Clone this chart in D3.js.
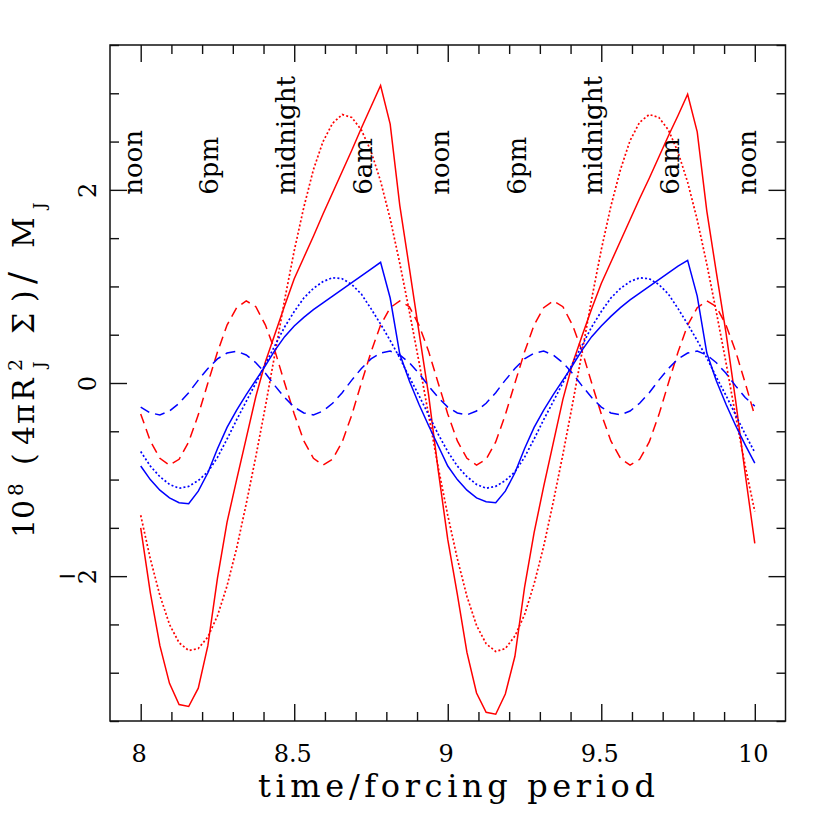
<!DOCTYPE html>
<html>
<head>
<meta charset="utf-8">
<script src="https://cdn.jsdelivr.net/npm/d3@7"></script>
<style>
  body { margin: 0; background: #ffffff; }
  svg text { font-family: "DejaVu Serif", "Liberation Serif", serif; fill: #000; }
</style>
</head>
<body>
<div id="chart"></div>
<script>

// ---------- data ----------

const time = [
  8, 8.03125, 8.0625, 8.09375, 8.125, 8.15625, 8.1875, 8.21875,
  8.25, 8.28125, 8.3125, 8.34375, 8.375, 8.40625, 8.4375, 8.46875,
  8.5, 8.53125, 8.5625, 8.59375, 8.625, 8.65625, 8.6875, 8.71875,
  8.75, 8.78125, 8.8125, 8.84375, 8.875, 8.90625, 8.9375, 8.96875,
  9, 9.03125, 9.0625, 9.09375, 9.125, 9.15625, 9.1875, 9.21875,
  9.25, 9.28125, 9.3125, 9.34375, 9.375, 9.40625, 9.4375, 9.46875,
  9.5, 9.53125, 9.5625, 9.59375, 9.625, 9.65625, 9.6875, 9.71875,
  9.75, 9.78125, 9.8125, 9.84375, 9.875, 9.90625, 9.9375, 9.96875,
  10
];

const redSolid = [
  -1.50, -2.17, -2.72, -3.11, -3.33, -3.35, -3.16, -2.72,
  -2.02, -1.44, -1.00, -0.57, -0.14, 0.22, 0.51, 0.80,
  1.08, 1.30, 1.52, 1.75, 1.97, 2.19, 2.41, 2.64,
  2.86, 3.08, 2.68, 1.84, 1.19, 0.53, -0.12, -0.90,
  -1.62, -2.19, -2.79, -3.21, -3.41, -3.43, -3.22, -2.83,
  -2.12, -1.55, -1.07, -0.62, -0.17, 0.20, 0.49, 0.77,
  1.03, 1.25, 1.47, 1.69, 1.91, 2.12, 2.34, 2.56,
  2.77, 2.99, 2.60, 1.78, 1.14, 0.52, -0.18, -0.94,
  -1.66
];

const redDotted = [
  -1.37, -1.82, -2.20, -2.50, -2.69, -2.77, -2.75, -2.63,
  -2.41, -2.10, -1.71, -1.25, -0.76, -0.24, 0.31, 0.86,
  1.37, 1.82, 2.21, 2.50, 2.69, 2.78, 2.75, 2.62,
  2.40, 2.09, 1.70, 1.24, 0.74, 0.22, -0.33, -0.87,
  -1.37, -1.82, -2.21, -2.51, -2.70, -2.78, -2.75, -2.62,
  -2.40, -2.08, -1.69, -1.23, -0.74, -0.22, 0.32, 0.87,
  1.38, 1.83, 2.21, 2.51, 2.70, 2.78, 2.75, 2.62,
  2.39, 2.08, 1.69, 1.23, 0.73, 0.21, -0.34, -0.86,
  -1.33
];

const redDashed = [
  -0.32, -0.60, -0.78, -0.85, -0.79, -0.61, -0.33, 0.00,
  0.32, 0.60, 0.78, 0.85, 0.79, 0.60, 0.33, 0.00,
  -0.32, -0.60, -0.78, -0.85, -0.79, -0.61, -0.33, 0.00,
  0.32, 0.60, 0.78, 0.85, 0.79, 0.60, 0.33, 0.00,
  -0.32, -0.60, -0.78, -0.85, -0.79, -0.61, -0.33, 0.00,
  0.32, 0.60, 0.78, 0.85, 0.79, 0.60, 0.33, 0.00,
  -0.32, -0.60, -0.78, -0.85, -0.79, -0.61, -0.33, 0.00,
  0.32, 0.60, 0.78, 0.85, 0.79, 0.60, 0.33, 0.00,
  -0.34
];

const blueSolid = [
  -0.86, -1.00, -1.11, -1.19, -1.24, -1.25, -1.12, -0.93,
  -0.68, -0.46, -0.28, -0.12, 0.03, 0.18, 0.34, 0.48,
  0.59, 0.68, 0.76, 0.83, 0.90, 0.97, 1.04, 1.11,
  1.18, 1.25, 0.88, 0.30, 0.02, -0.22, -0.44, -0.65,
  -0.86, -1.00, -1.11, -1.19, -1.23, -1.24, -1.12, -0.93,
  -0.68, -0.46, -0.28, -0.12, 0.03, 0.18, 0.34, 0.48,
  0.59, 0.69, 0.78, 0.86, 0.93, 1.00, 1.07, 1.14,
  1.21, 1.27, 0.90, 0.31, 0.02, -0.22, -0.44, -0.64,
  -0.83
];

const blueDotted = [
  -0.71, -0.86, -0.97, -1.05, -1.09, -1.07, -1.01, -0.92,
  -0.77, -0.58, -0.38, -0.19, 0.00, 0.20, 0.39, 0.58,
  0.74, 0.88, 0.98, 1.05, 1.09, 1.08, 1.02, 0.92,
  0.77, 0.61, 0.44, 0.26, 0.06, -0.13, -0.33, -0.53,
  -0.71, -0.86, -0.97, -1.05, -1.09, -1.07, -1.01, -0.92,
  -0.77, -0.58, -0.38, -0.19, 0.00, 0.20, 0.39, 0.58,
  0.74, 0.88, 0.98, 1.05, 1.09, 1.08, 1.02, 0.92,
  0.77, 0.61, 0.44, 0.26, 0.06, -0.13, -0.33, -0.53,
  -0.72
];

const blueDashed = [
  -0.25, -0.31, -0.33, -0.29, -0.21, -0.10, 0.03, 0.15,
  0.25, 0.31, 0.33, 0.29, 0.21, 0.10, -0.03, -0.15,
  -0.25, -0.31, -0.33, -0.29, -0.21, -0.10, 0.03, 0.15,
  0.25, 0.31, 0.33, 0.29, 0.21, 0.10, -0.03, -0.15,
  -0.25, -0.31, -0.33, -0.29, -0.21, -0.10, 0.03, 0.15,
  0.25, 0.31, 0.33, 0.29, 0.21, 0.10, -0.03, -0.15,
  -0.25, -0.31, -0.33, -0.29, -0.21, -0.10, 0.03, 0.15,
  0.25, 0.31, 0.33, 0.29, 0.21, 0.10, -0.03, -0.15,
  -0.24
];

const phaseTimes = [8, 8.25, 8.5, 8.75, 9, 9.25, 9.5, 9.75, 10];
const phaseLabels = ["noon", "6pm", "midnight", "6am", "noon", "6pm", "midnight", "6am", "noon"];
const phaseLabelY = 1.95;

const xTicks = [8, 8.5, 9, 9.5, 10];
const xTickLabels = ["8", "8.5", "9", "9.5", "10"];
const yTicks = [-2, 0, 2];
const yTickLabels = ["2", "0", "2"];   // the minus is drawn apart, as in the figure

const xTitle = "time/forcing period";

// ---------- layout ----------

const W = 830, H = 830;
const plotLeft = 110, plotRight = 785.5, plotTop = 45, plotBottom = 721;
const majorLen = 17, minorLen = 9;

const x = d3.scaleLinear().domain([7.9, 10.1]).range([plotLeft, plotRight]);
const y = d3.scaleLinear().domain([-3.5, 3.5]).range([plotBottom, plotTop]);

const xMinor = d3.range(80, 101).map(d => d / 10).filter(d => !xTicks.includes(d));
const yMinor = d3.range(-7, 8).map(d => d / 2).filter(d => !yTicks.includes(d));

const svg = d3.select("#chart").append("svg")
    .attr("xmlns", "http://www.w3.org/2000/svg")
    .attr("width", W).attr("height", H);

svg.append("rect").attr("width", W).attr("height", H).attr("fill", "#fff");

// ---------- curves ----------

const series = [
  { values: redSolid,   color: "#ff0000", dash: null },
  { values: redDotted,  color: "#ff0000", dash: "2,2.2" },
  { values: redDashed,  color: "#ff0000", dash: "10,6" },
  { values: blueSolid,  color: "#0000ff", dash: null },
  { values: blueDotted, color: "#0000ff", dash: "2,2.2" },
  { values: blueDashed, color: "#0000ff", dash: "10,6" }
];

const line = d3.line()
    .x(d => x(d[0]))
    .y(d => y(d[1]));

svg.append("g").selectAll("path")
    .data(series)
    .join("path")
    .attr("d", s => line(time.map((t, i) => [t, s.values[i]])))
    .attr("fill", "none")
    .attr("stroke", s => s.color)
    .attr("stroke-width", s => s.dash === "2,2.2" ? 1.7 : 1.5)
    .attr("stroke-dasharray", s => s.dash);

// ---------- axes (ticks point inward on all four sides) ----------

function styleAxis(g) {
  g.select(".domain").remove();
  g.selectAll("line").attr("stroke", "#111").attr("stroke-width", 1.4);
}

svg.append("g").attr("transform", `translate(0,${plotBottom})`)
    .call(d3.axisBottom(x).tickValues(xTicks).tickSize(-majorLen).tickPadding(24)
        .tickFormat((d, i) => xTickLabels[i]))
    .call(styleAxis)
    .call(g => g.selectAll("text").attr("font-size", 24).attr("font-family", null)
        .attr("fill", "#000").attr("x", -2));
svg.append("g").attr("transform", `translate(0,${plotBottom})`)
    .call(d3.axisBottom(x).tickValues(xMinor).tickSize(-minorLen).tickFormat(""))
    .call(styleAxis);

svg.append("g").attr("transform", `translate(0,${plotTop})`)
    .call(d3.axisTop(x).tickValues(xTicks).tickSize(-majorLen).tickFormat(""))
    .call(styleAxis);
svg.append("g").attr("transform", `translate(0,${plotTop})`)
    .call(d3.axisTop(x).tickValues(xMinor).tickSize(-minorLen).tickFormat(""))
    .call(styleAxis);

const yAxisG = svg.append("g").attr("transform", `translate(${plotLeft},0)`)
    .call(d3.axisLeft(y).tickValues(yTicks).tickSize(-majorLen).tickFormat((d, i) => yTickLabels[i]))
    .call(styleAxis);
yAxisG.selectAll("text")
    .attr("font-size", 24).attr("font-family", null).attr("fill", "#000")
    .attr("x", null).attr("dy", null)
    .attr("text-anchor", "middle")
    .attr("transform", "translate(-14,0) rotate(-90)");
yAxisG.selectAll(".tick").filter(d => d < 0)
    .append("text")
    .attr("x", -43).attr("dy", "0.32em")
    .attr("text-anchor", "middle")
    .attr("font-size", 24).attr("fill", "#000")
    .text("\u2212");
svg.append("g").attr("transform", `translate(${plotLeft},0)`)
    .call(d3.axisLeft(y).tickValues(yMinor).tickSize(-minorLen).tickFormat(""))
    .call(styleAxis);

svg.append("g").attr("transform", `translate(${plotRight},0)`)
    .call(d3.axisRight(y).tickValues(yTicks).tickSize(-majorLen).tickFormat(""))
    .call(styleAxis);
svg.append("g").attr("transform", `translate(${plotRight},0)`)
    .call(d3.axisRight(y).tickValues(yMinor).tickSize(-minorLen).tickFormat(""))
    .call(styleAxis);

svg.append("rect")
    .attr("x", plotLeft).attr("y", plotTop)
    .attr("width", plotRight - plotLeft).attr("height", plotBottom - plotTop)
    .attr("fill", "none").attr("stroke", "#111").attr("stroke-width", 1.5);

// ---------- time-of-day labels ----------

svg.append("g").selectAll("text")
    .data(phaseTimes)
    .join("text")
    .attr("transform", d => `translate(${x(d) + 1},${y(phaseLabelY)}) rotate(-90)`)
    .attr("font-size", 26)
    .text((d, i) => phaseLabels[i]);

// ---------- axis titles ----------

svg.append("text")
    .attr("x", 258).attr("y", 797)
    .attr("font-size", 32)
    .attr("textLength", 397)
    .attr("lengthAdjust", "spacing")
    .text(xTitle);

// y title: 10^8 (4 pi R_J^2 Sigma)/M_J, laid out along the rotated baseline
const yTitleParts = [
  { t: "10", x: 0,   dy: 0,   s: 30 },
  { t: "8",  x: 42,  dy: -11, s: 20 },
  { t: "(",  x: 73,  dy: 0,   s: 30 },
  { t: "4",  x: 93,  dy: 0,   s: 30 },
  { t: "\u03c0", x: 114, dy: 0, s: 30 },
  { t: "R",  x: 137, dy: 0,   s: 30 },
  { t: "2",  x: 167, dy: -12, s: 19 },
  { t: "J",  x: 170, dy: 11,  s: 16 },
  { t: "\u03a3", x: 204, dy: 0, s: 30 },
  { t: ")",  x: 236, dy: 0,   s: 30 },
  { t: "/",  x: 254, dy: 0,   s: 36 },
  { t: "M",  x: 290, dy: 0,   s: 30 },
  { t: "J",  x: 329, dy: 11,  s: 16 }
];

svg.append("g")
    .attr("transform", "translate(34,538) rotate(-90)")
    .selectAll("text")
    .data(yTitleParts)
    .join("text")
    .attr("x", d => d.x)
    .attr("y", d => d.dy)
    .attr("font-size", d => d.s)
    .text(d => d.t);

</script>
</body>
</html>
